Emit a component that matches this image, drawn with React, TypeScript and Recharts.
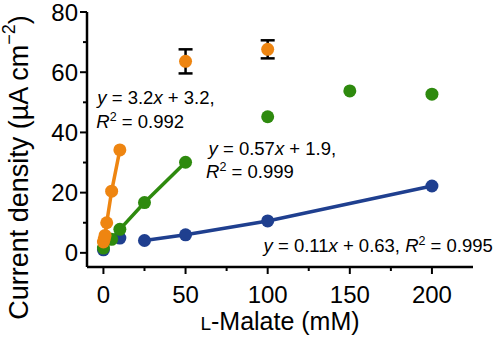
import { ComposedChart, ErrorBar, Line, ReferenceDot, Scatter, XAxis, YAxis } from "recharts"

// fitted ranges (connected)
const orangeX = [0, 0.5, 1, 2, 5, 10]
const orangeY = [3.6, 4.6, 5.8, 10, 20.5, 34.2]
const greenX = [0, 5, 10, 25, 50]
const greenY = [1.6, 4.5, 7.8, 16.7, 30.1]
const blueX = [25, 50, 100, 200]
const blueY = [4.1, 6.0, 10.6, 22.2]

// points outside the fits
const orangeSatX = [50, 100]
const orangeSatY = [63.6, 67.6]
const orangeSatErr = [4, 3]
const greenSatX = [100, 150, 200]
const greenSatY = [45.2, 53.8, 52.7]
const blueLowX = [0, 10]
const blueLowY = [1.0, 4.9]

const xTicks = [0, 25, 50, 75, 100, 125, 150, 175, 200]
const yTicks = [0, 10, 20, 30, 40, 50, 60, 70, 80]

const ORANGE = "#ee8511"
const GREEN = "#2e8a0e"
const BLUE = "#1f3f8f"
const FONT = "'Liberation Sans', Arial, sans-serif"

const zip = (xs: number[], ys: number[], es?: number[]) =>
  xs.map((x, i) => ({ x, y: ys[i], ...(es ? { err: es[i] } : {}) }))

const XTick = ({ x, y, payload }: any) => {
  const major = payload.value % 50 === 0
  return (
    <g>
      <line x1={x} x2={x} y1={y} y2={y + (major ? 7 : 4)} stroke="#000" strokeWidth={2} />
      {major && (
        <text x={x} y={y + 36} textAnchor="middle" fontSize={24} fontFamily={FONT} fill="#000">
          {payload.value}
        </text>
      )}
    </g>
  )
}

const YTick = ({ x, y, payload }: any) => {
  const major = payload.value % 20 === 0
  return (
    <g>
      <line x1={x - (major ? 7 : 4)} x2={x} y1={y} y2={y} stroke="#000" strokeWidth={2} />
      {major && (
        <text x={x - 9} y={y + 8.5} textAnchor="end" fontSize={24} fontFamily={FONT} fill="#000">
          {payload.value}
        </text>
      )}
    </g>
  )
}

const dot = (color: string) => (p: any) => <circle cx={p.cx} cy={p.cy} r={6.5} fill={color} />

const Eq = ({ viewBox, a, b }: any) => (
  <text x={viewBox.x} y={viewBox.y} fontSize={18.5} fontFamily={FONT} fill="#000">
    <tspan fontStyle="italic">y</tspan>
    <tspan>{` = ${a}`}</tspan>
    <tspan fontStyle="italic">x</tspan>
    <tspan>{` + ${b},`}</tspan>
  </text>
)

const R2 = ({ viewBox, r }: any) => (
  <text x={viewBox.x} y={viewBox.y} fontSize={18.5} fontFamily={FONT} fill="#000">
    <tspan fontStyle="italic">R</tspan>
    <tspan fontSize={12.5} dy={-7}>2</tspan>
    <tspan dy={7}>{` = ${r}`}</tspan>
  </text>
)

const BlueEq = ({ viewBox }: any) => (
  <text x={viewBox.x} y={viewBox.y} fontSize={18.5} fontFamily={FONT} fill="#000">
    <tspan fontStyle="italic">y</tspan>
    <tspan>{" = 0.11"}</tspan>
    <tspan fontStyle="italic">x</tspan>
    <tspan>{" + 0.63, "}</tspan>
    <tspan fontStyle="italic">R</tspan>
    <tspan fontSize={12.5} dy={-7}>2</tspan>
    <tspan dy={7}>{" = 0.995"}</tspan>
  </text>
)

const seriesDot = (color: string) => ({ r: 6.5, fill: color, stroke: "none" })

export default function App() {
  return (
    <div style={{ position: "absolute", left: 0, top: 0, width: 500, height: 342, background: "#fff" }}>
      <ComposedChart width={500} height={342} margin={{ top: 12, right: 27, bottom: 0, left: 0 }}>
        <XAxis
          dataKey="x"
          type="number"
          domain={[-10, 225]}
          ticks={xTicks}
          allowDataOverflow
          height={75}
          tickLine={false}
          tickSize={0}
          tickMargin={0}
          tick={<XTick />}
          axisLine={{ stroke: "#000", strokeWidth: 2.5 }}
          label={({ viewBox }: any) => (
            <text
              x={viewBox.x + viewBox.width / 2}
              y={viewBox.y + 63}
              textAnchor="middle"
              fontSize={25}
              fontFamily={FONT}
              fill="#000"
            >
              <tspan fontSize={19}>L</tspan>-Malate (mM)
            </text>
          )}
        />
        <YAxis
          type="number"
          domain={[-4.7, 80]}
          ticks={yTicks}
          allowDataOverflow
          width={87}
          tickLine={false}
          tickSize={0}
          tickMargin={0}
          tick={<YTick />}
          axisLine={{ stroke: "#000", strokeWidth: 2.5 }}
          label={({ viewBox }: any) => {
            const cx = 19
            const cy = viewBox.y + viewBox.height / 2 + 28
            return (
              <text
                x={cx}
                y={cy}
                transform={`rotate(-90 ${cx} ${cy})`}
                textAnchor="middle"
                dominantBaseline="central"
                fontSize={27}
                fontFamily={FONT}
                fill="#000"
              >
                Current density (µA cm<tspan fontSize={18} dy={-10}>−2</tspan>
                <tspan dy={10}>)</tspan>
              </text>
            )
          }}
        />
        <Scatter data={zip(blueLowX, blueLowY)} dataKey="y" shape={dot(BLUE)} isAnimationActive={false} />
        <Line
          data={zip(blueX, blueY)}
          dataKey="y"
          stroke={BLUE}
          strokeWidth={3.5}
          dot={seriesDot(BLUE)}
          isAnimationActive={false}
        />
        <Scatter data={zip(greenSatX, greenSatY)} dataKey="y" shape={dot(GREEN)} isAnimationActive={false} />
        <Line
          data={zip(greenX, greenY)}
          dataKey="y"
          stroke={GREEN}
          strokeWidth={3.5}
          dot={seriesDot(GREEN)}
          isAnimationActive={false}
        />
        <Line
          data={zip(orangeX, orangeY)}
          dataKey="y"
          stroke={ORANGE}
          strokeWidth={3.5}
          dot={seriesDot(ORANGE)}
          isAnimationActive={false}
        />
        <Scatter
          data={zip(orangeSatX, orangeSatY, orangeSatErr)}
          dataKey="y"
          shape={dot(ORANGE)}
          isAnimationActive={false}
        >
          <ErrorBar dataKey="err" direction="y" width={7} stroke="#000" strokeWidth={2.5} />
        </Scatter>
        <ReferenceDot x={-3.7} y={49.5} r={0} fill="none" stroke="none" label={<Eq a="3.2" b="3.2" />} />
        <ReferenceDot x={-4.3} y={41.5} r={0} fill="none" stroke="none" label={<R2 r="0.992" />} />
        <ReferenceDot x={64} y={32.6} r={0} fill="none" stroke="none" label={<Eq a="0.57" b="1.9" />} />
        <ReferenceDot x={62.5} y={24.9} r={0} fill="none" stroke="none" label={<R2 r="0.999" />} />
        <ReferenceDot x={97.5} y={0.3} r={0} fill="none" stroke="none" label={<BlueEq />} />
      </ComposedChart>
    </div>
  )
}
